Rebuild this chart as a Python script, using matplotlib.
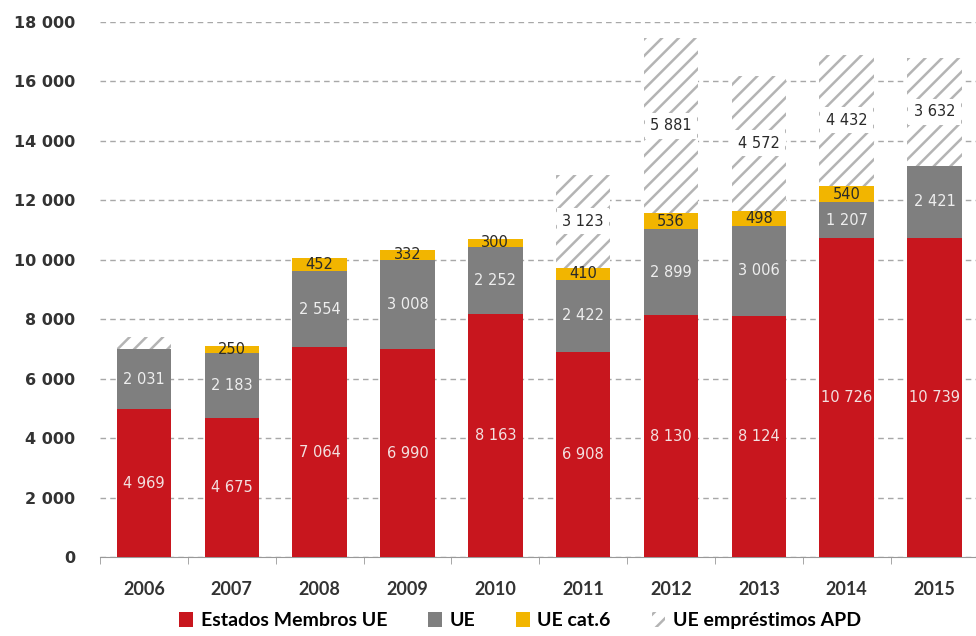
import numpy as np
import matplotlib.pyplot as plt
from matplotlib.patches import Patch
from matplotlib import font_manager as fm

anos = ['2006', '2007', '2008', '2009', '2010', '2011', '2012', '2013', '2014', '2015']
estados_membros = [4969, 4675, 7064, 6990, 8163, 6908, 8130, 8124, 10726, 10739]
ue = [2031, 2183, 2554, 3008, 2252, 2422, 2899, 3006, 1207, 2421]
ue_cat6 = [0, 250, 452, 332, 300, 410, 536, 498, 540, 0]
ue_emprestimos = [400, 0, 0, 0, 0, 3123, 5881, 4572, 4432, 3632]
# 2006 loan segment has no label in the original
mostra_emp = [False, False, False, False, False, True, True, True, True, True]

RED = '#c8161e'
GRAY = '#7f7f7f'
YELLOW = '#f2b500'
HATCH = '#b4b4b4'

names = {f.name for f in fm.fontManager.ttflist}
cond = 'Liberation Sans Narrow' if 'Liberation Sans Narrow' in names else 'Lato'

plt.rcParams['hatch.linewidth'] = 1.8


def fmt(v):
    return '{:,}'.format(v).replace(',', ' ')


fig = plt.figure(figsize=(9.76, 6.36), dpi=100)
ax = fig.add_axes([0.1025, 0.1242, 0.9, 0.8412])

x = np.arange(len(anos))
w = 0.62

b0 = np.zeros(len(anos))
ax.bar(x, estados_membros, w, color=RED, zorder=3)
b1 = b0 + estados_membros
ax.bar(x, ue, w, bottom=b1, color=GRAY, zorder=3)
b2 = b1 + ue
ax.bar(x, ue_cat6, w, bottom=b2, color=YELLOW, zorder=3)
b3 = b2 + ue_cat6
ax.bar(x, ue_emprestimos, w, bottom=b3, facecolor='white', edgecolor=HATCH,
       linewidth=0, hatch='//', zorder=3)

lab = dict(ha='center', va='center', fontsize=10.5, family='DejaVu Sans', zorder=5)
for i in range(len(anos)):
    ax.text(x[i], estados_membros[i] / 2, fmt(estados_membros[i]), color='#f3e0e0', **lab)
    ax.text(x[i], b1[i] + ue[i] / 2, fmt(ue[i]), color='#eeeeee', **lab)
    if ue_cat6[i]:
        ax.text(x[i], b2[i] + ue_cat6[i] / 2, fmt(ue_cat6[i]), color='#2a2a2a', **lab)
    if mostra_emp[i]:
        ax.text(x[i], b3[i] + ue_emprestimos[i] / 2, fmt(ue_emprestimos[i]), color='#2a2a2a',
                bbox=dict(facecolor='white', edgecolor='none', pad=4), **lab)

ax.set_xlim(-0.47, 9.42)
ax.set_ylim(0, 18000)
ax.set_yticks(np.arange(0, 18001, 2000))
ax.set_yticklabels([fmt(v) for v in range(0, 18001, 2000)])
ax.yaxis.grid(True, color='#a8a8a8', linestyle=(0, (4, 3)), linewidth=1, zorder=0)
ax.set_axisbelow(True)
ax.tick_params(axis='y', length=0, pad=18, labelsize=11.5, labelcolor='#333333')
for t in ax.get_yticklabels():
    t.set_fontweight('bold')

ax.set_xticks(x)
ax.set_xticklabels(anos, fontfamily=cond, fontweight='bold', fontsize=13, color='#333333')
ax.set_xticks(np.arange(-0.5, 9.6, 1), minor=True)
ax.tick_params(axis='x', which='major', length=0, pad=17)
ax.tick_params(axis='x', which='minor', length=5, color='#999999', direction='out')

for s in ['left', 'right', 'top']:
    ax.spines[s].set_visible(False)
ax.spines['bottom'].set_color('#999999')

handles = [Patch(facecolor=RED), Patch(facecolor=GRAY), Patch(facecolor=YELLOW),
           Patch(facecolor='white', edgecolor=HATCH, linewidth=0, hatch='//')]
labels = ['Estados Membros UE', 'UE', 'UE cat.6', 'UE empréstimos APD']
fig.legend(handles, labels, loc='center', bbox_to_anchor=(0.533, 0.024), ncol=4,
           frameon=False, handlelength=0.7, handleheight=0.8, handletextpad=0.4,
           columnspacing=2.1, prop=dict(family=cond, weight='bold', size=14))

fig.savefig('out.png', dpi=100, facecolor='white')
